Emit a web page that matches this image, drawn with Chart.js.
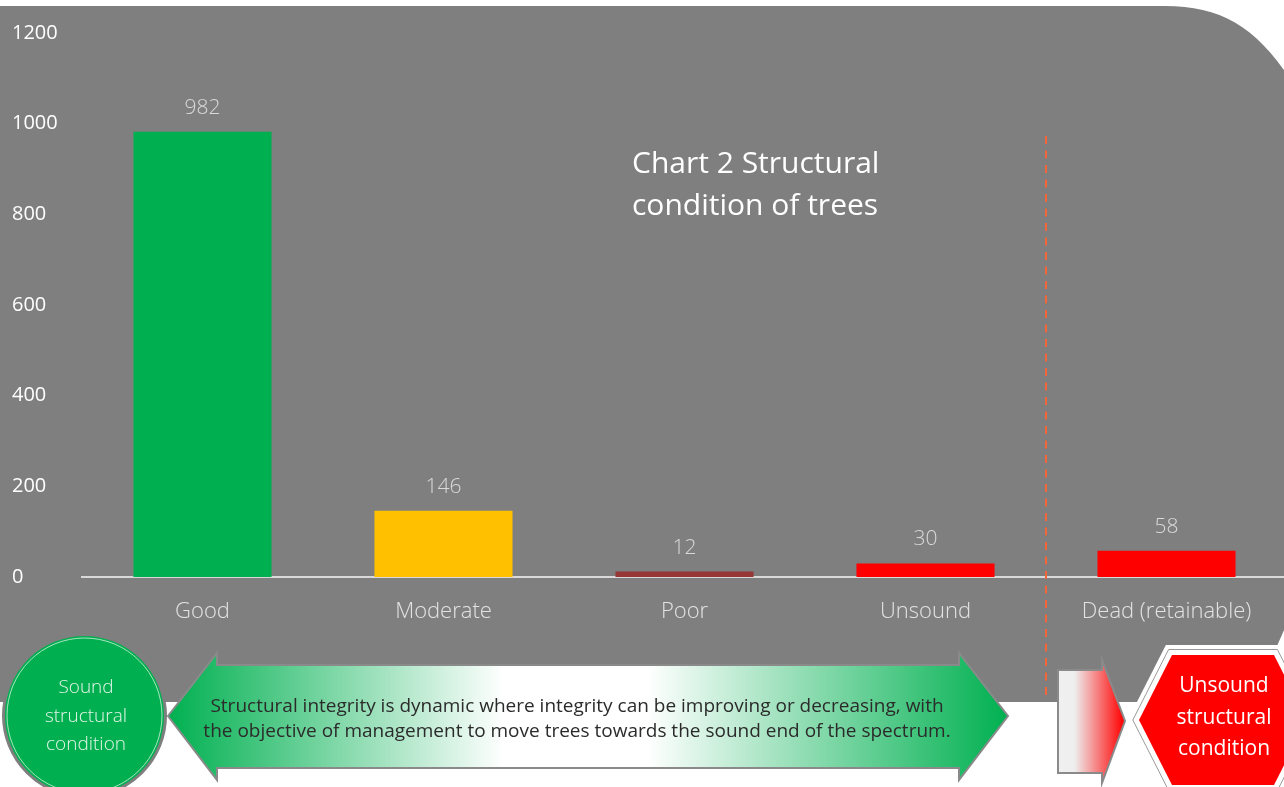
<!DOCTYPE html>
<html>
<head>
<meta charset="utf-8">
<title>Chart 2 Structural condition of trees</title>
<script src="https://cdn.jsdelivr.net/npm/chart.js@4.4.1/dist/chart.umd.min.js"></script>
<style>
  html, body { margin: 0; padding: 0; background: #fff; overflow: hidden; }
  #wrap { position: relative; width: 1284px; height: 787px; overflow: hidden; }
  #structChart { position: absolute; left: 0; top: 0; }
</style>
</head>
<body>
<div id="wrap"><canvas id="structChart" width="1290" height="787"></canvas></div>
<script>
// Chart data
const categories = ["Good", "Moderate", "Poor", "Unsound", "Dead (retainable)"];
const treeCounts = [982, 146, 12, 30, 58];
const barColors = ["#00b050", "#ffc000", "#963735", "#ff0000", "#ff0000"];
const yTicks = [0, 200, 400, 600, 800, 1000, 1200];

// Text blocks
const titleLines = ["Chart 2 Structural", "condition of trees"];
const spectrumLines = [
  "Structural integrity is dynamic where integrity can be improving or decreasing, with",
  "the objective of management to move trees towards the sound end of the spectrum.",
];
const soundLines = ["Sound", "structural", "condition"];
const unsoundLines = ["Unsound", "structural", "condition"];

const FONT = "'Segoe UI', 'Open Sans', sans-serif";
const PANEL = "#7f7f7f";

// Grey panel behind the chart, rounded at the top right
const panelBackground = {
  id: "panelBackground",
  beforeDraw(chart) {
    const ctx = chart.ctx;
    ctx.save();
    ctx.fillStyle = "#ffffff";
    ctx.fillRect(0, 0, chart.width, chart.height);
    ctx.fillStyle = PANEL;
    ctx.beginPath();
    ctx.moveTo(0, 6);
    ctx.lineTo(1165, 6);
    ctx.bezierCurveTo(1225, 6, 1262, 30, 1300, 95);
    ctx.lineTo(1300, 600);
    ctx.lineTo(1292, 612);
    ctx.lineTo(1277, 646);
    ctx.lineTo(1277, 702);
    ctx.lineTo(0, 702);
    ctx.closePath();
    ctx.fill();
    ctx.restore();
  },
};

// Value above each bar
const valueLabels = {
  id: "valueLabels",
  afterDatasetsDraw(chart) {
    const ctx = chart.ctx;
    const meta = chart.getDatasetMeta(0);
    ctx.save();
    ctx.font = `300 21px ${FONT}`;
    ctx.fillStyle = "#d9d9d9";
    ctx.textAlign = "center";
    ctx.textBaseline = "middle";
    meta.data.forEach((bar, i) => {
      ctx.fillText(String(treeCounts[i]), bar.x, bar.y - 24);
    });
    ctx.restore();
  },
};

function octagonPath(ctx, d) {
  const cx = 1223;
  const top = 655 - d, mid = 720, bot = 785 + d;
  const ht = 51 + 0.614 * d, hm = 84 + 1.12 * d;
  ctx.beginPath();
  ctx.moveTo(cx - ht, top);
  ctx.lineTo(cx + ht, top);
  ctx.lineTo(cx + hm, mid);
  ctx.lineTo(cx + ht, bot);
  ctx.lineTo(cx - ht, bot);
  ctx.lineTo(cx - hm, mid);
  ctx.closePath();
}

function drawLines(ctx, lines, x, y0, step) {
  lines.forEach((t, i) => ctx.fillText(t, x, y0 + i * step));
}

// Title, divider and the spectrum graphic under the axis
const decorations = {
  id: "decorations",
  afterDraw(chart) {
    const ctx = chart.ctx;
    const x = chart.scales.x;
    const area = chart.chartArea;
    ctx.save();

    // title
    ctx.fillStyle = "#ffffff";
    ctx.font = `30px ${FONT}`;
    ctx.textAlign = "left";
    ctx.textBaseline = "alphabetic";
    drawLines(ctx, titleLines, 632, 173, 42);

    // dashed divider between living and dead trees
    const divX = (x.getPixelForValue(3) + x.getPixelForValue(4)) / 2;
    ctx.beginPath();
    ctx.setLineDash([8, 6.5]);
    ctx.strokeStyle = "#f5653a";
    ctx.lineWidth = 2;
    ctx.moveTo(divX, area.top + 103);
    ctx.lineTo(divX, 700);
    ctx.stroke();
    ctx.setLineDash([]);

    // double-headed arrow
    const L = 168, R = 1008, mid = 716, hl = 217, hr = 959;
    ctx.beginPath();
    ctx.moveTo(L, mid);
    ctx.lineTo(hl, 653);
    ctx.lineTo(hl, 665);
    ctx.lineTo(hr, 665);
    ctx.lineTo(hr, 653);
    ctx.lineTo(R, mid);
    ctx.lineTo(hr, 780);
    ctx.lineTo(hr, 768);
    ctx.lineTo(hl, 768);
    ctx.lineTo(hl, 780);
    ctx.closePath();
    const g = ctx.createLinearGradient(L, 0, R, 0);
    g.addColorStop(0, "#00b050");
    g.addColorStop(0.4, "#ffffff");
    g.addColorStop(0.57, "#ffffff");
    g.addColorStop(1, "#00b050");
    ctx.fillStyle = g;
    ctx.fill();
    ctx.strokeStyle = "#8a8a8a";
    ctx.lineWidth = 2;
    ctx.stroke();

    ctx.fillStyle = "#2b2b2b";
    ctx.font = `19px ${FONT}`;
    ctx.textAlign = "center";
    drawLines(ctx, spectrumLines, 577, 712, 25);

    // sound condition circle
    ctx.beginPath();
    ctx.arc(84.5, 715.5, 81, 0, Math.PI * 2);
    ctx.fillStyle = "#00b050";
    ctx.fill();
    ctx.strokeStyle = PANEL;
    ctx.lineWidth = 3;
    ctx.stroke();
    ctx.beginPath();
    ctx.arc(84.5, 715.5, 77.5, 0, Math.PI * 2);
    ctx.strokeStyle = "rgba(210,240,218,0.8)";
    ctx.lineWidth = 1;
    ctx.stroke();
    ctx.fillStyle = "#e4f5e8";
    ctx.font = `300 19px ${FONT}`;
    drawLines(ctx, soundLines, 86, 693, 28.5);

    // arrow fading into red
    ctx.beginPath();
    ctx.moveTo(1058, 670);
    ctx.lineTo(1102, 670);
    ctx.lineTo(1102, 660);
    ctx.lineTo(1125, 721);
    ctx.lineTo(1102, 783);
    ctx.lineTo(1102, 773);
    ctx.lineTo(1058, 773);
    ctx.closePath();
    const rg = ctx.createLinearGradient(1058, 0, 1124, 0);
    rg.addColorStop(0, "#f0f0f0");
    rg.addColorStop(0.25, "#eeeeee");
    rg.addColorStop(1, "#ff0000");
    ctx.fillStyle = rg;
    ctx.fill();
    ctx.strokeStyle = "#8a8a8a";
    ctx.lineWidth = 2;
    ctx.stroke();

    // unsound condition octagon with double white border
    octagonPath(ctx, 10);
    ctx.fillStyle = "#ffffff";
    ctx.fill();
    octagonPath(ctx, 5.5);
    ctx.strokeStyle = "#9a9a9a";
    ctx.lineWidth = 1;
    ctx.stroke();
    octagonPath(ctx, 0);
    ctx.fillStyle = "#ff0000";
    ctx.fill();
    ctx.fillStyle = "#ffffff";
    ctx.font = `21px ${FONT}`;
    drawLines(ctx, unsoundLines, 1224, 692, 31.5);

    ctx.restore();
  },
};

const ctx = document.getElementById("structChart").getContext("2d");
new Chart(ctx, {
  type: "bar",
  data: {
    labels: categories,
    datasets: [
      {
        data: treeCounts,
        backgroundColor: barColors,
        borderWidth: 0,
        barPercentage: 0.573,
        categoryPercentage: 1.0,
      },
    ],
  },
  options: {
    responsive: false,
    animation: false,
    devicePixelRatio: 1,
    layout: {
      padding: { left: 12, top: 33, right: 3, bottom: 0 },
    },
    plugins: {
      legend: { display: false },
      tooltip: { enabled: false },
    },
    scales: {
      x: {
        afterFit(scale) {
          scale.height = 210;
        },
        grid: { display: false, drawTicks: false },
        border: { display: true, color: "#d9d9d9", width: 2 },
        ticks: {
          color: "#e3e3e3",
          padding: 22,
          font: { family: FONT, size: 22, weight: "300" },
        },
      },
      y: {
        min: 0,
        max: 1200,
        afterBuildTicks(scale) {
          scale.ticks = yTicks.map((v) => ({ value: v }));
        },
        afterFit(scale) {
          scale.width = 70;
        },
        grid: { display: false, drawTicks: false },
        border: { display: false },
        ticks: {
          color: "#ffffff",
          crossAlign: "far",
          padding: 0,
          font: { family: FONT, size: 20 },
          callback: (value) => String(value),
        },
      },
    },
  },
  plugins: [panelBackground, valueLabels, decorations],
});
</script>
</body>
</html>
